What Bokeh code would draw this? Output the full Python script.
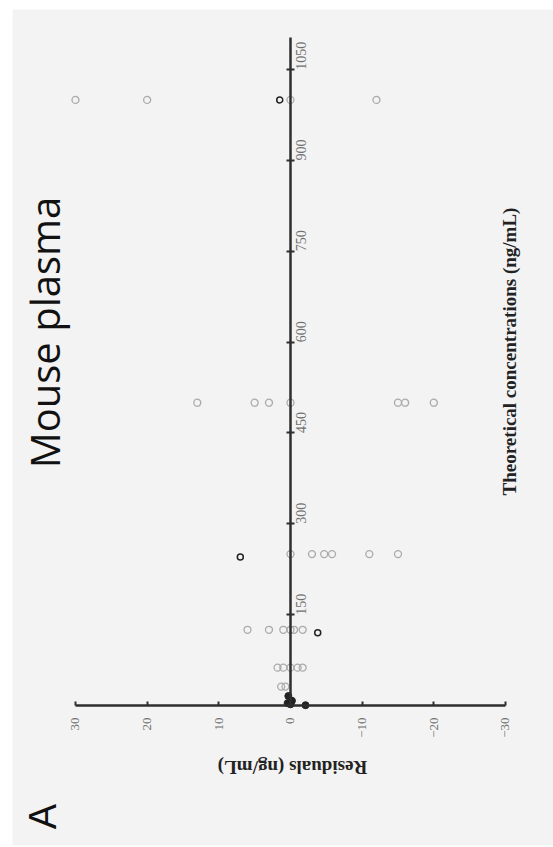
import math
from bokeh.plotting import figure
from bokeh.models import Range1d, LinearAxis, FixedTicker, Label
from bokeh.embed import file_html
from bokeh.resources import INLINE

# ---- data (residuals in ng/mL vs theoretical concentration in ng/mL) ----
gray_conc = [1000, 1000, 1000, 1000,
             500, 500, 500, 500, 500, 500, 500,
             250, 250, 250, 250, 250, 250,
             125, 125, 125, 125, 125, 125,
             62.5, 62.5, 62.5, 62.5, 62.5,
             31.25, 31.25]
gray_res = [30, 20, -12, 0,
            13, 5, 3, 0, -15, -16, -20,
            0, -3, -4.7, -5.8, -11, -15,
            6, 3, 1, 0, -0.5, -1.7,
            1.8, 1, 0, -1, -1.7,
            1.3, 0.7]
black_conc = [1000, 245, 120]
black_res = [1.5, 7, -3.8]
dark_conc = [15.6, 7.8, 3.9, 1.95, 0.5]
dark_res = [0.3, -0.2, 0.4, 0.0, -2.1]

x_ticks = [-30, -20, -10, 0, 10, 20, 30]
y_ticks = [150, 300, 450, 600, 750, 900, 1050]

BG = "#f3f3f3"
AX = "#2e2e2e"

p = figure(width=553, height=847, output_backend="svg", toolbar_location=None,
           x_range=Range1d(38.79, -36.70), y_range=Range1d(-231.2, 1149.3),
           x_axis_location=None, y_axis_location=None,
           min_border_left=12, min_border_top=9, min_border_right=0, min_border_bottom=2)
p.background_fill_color = BG
p.border_fill_color = "white"
p.outline_line_color = None
p.xgrid.visible = False
p.ygrid.visible = False

# horizontal residual axis at concentration 0
xa = LinearAxis(fixed_location=0, bounds=(-30, 30), ticker=FixedTicker(ticks=x_ticks))
xa.axis_line_color = AX
xa.axis_line_width = 2.5
xa.major_tick_line_color = AX
xa.major_tick_line_width = 2
xa.major_tick_in = 4
xa.major_tick_out = 0
xa.minor_tick_line_color = None
xa.major_label_orientation = math.pi / 2
xa.major_label_standoff = 12
xa.major_label_text_font = "Liberation Serif"
xa.major_label_text_font_size = "13px"
xa.major_label_text_color = "#707070"
p.add_layout(xa, "below")

# vertical concentration axis at residual 0
ya = LinearAxis(fixed_location=0, bounds=(0, 1103), ticker=FixedTicker(ticks=y_ticks))
ya.axis_line_color = AX
ya.axis_line_width = 2.5
ya.major_tick_line_color = AX
ya.major_tick_line_width = 2
ya.major_tick_in = 4
ya.major_tick_out = 4
ya.minor_tick_line_color = None
ya.major_label_orientation = math.pi / 2
ya.major_label_standoff = 7
ya.major_label_text_font = "Liberation Serif"
ya.major_label_text_font_size = "14px"
ya.major_label_text_color = "#707070"
p.add_layout(ya, "right")

p.scatter(gray_res, gray_conc, marker="circle", size=7, fill_color=None,
          line_color="#aaaaaa", line_width=1.3)
p.scatter(black_res, black_conc, marker="circle", size=6, fill_color=None,
          line_color="#222222", line_width=1.5)
p.scatter(dark_res, dark_conc, marker="circle", size=7, fill_color="#222222",
          line_color="#222222", line_width=1)

# texts (positions in data space, rotated like the reference page)
def dx(px):
    return (290 - px) / 7.167

def dy(py):
    return (705 - py) / 0.6056

p.add_layout(Label(x=dx(44), y=dy(332), text="Mouse plasma", angle=math.pi / 2,
                   text_align="center", text_baseline="middle",
                   text_font="Open Sans", text_font_size="40px", text_color="#111111"))
p.add_layout(Label(x=dx(42), y=dy(816), text="A", angle=math.pi / 2,
                   text_align="center", text_baseline="middle",
                   text_font="Liberation Sans", text_font_size="38px", text_color="#111111"))
p.add_layout(Label(x=dx(509), y=dy(351), text="Theoretical concentrations (ng/mL)",
                   angle=math.pi / 2, text_align="center", text_baseline="middle",
                   text_font="Liberation Serif", text_font_style="bold",
                   text_font_size="19px", text_color="#222222"))
p.add_layout(Label(x=dx(292), y=dy(767), text="Residuals (ng/mL)",
                   angle=math.pi, text_align="center", text_baseline="middle",
                   text_font="Liberation Serif", text_font_style="bold",
                   text_font_size="19px", text_color="#222222"))

open("out.html", "w").write(file_html(p, INLINE))
